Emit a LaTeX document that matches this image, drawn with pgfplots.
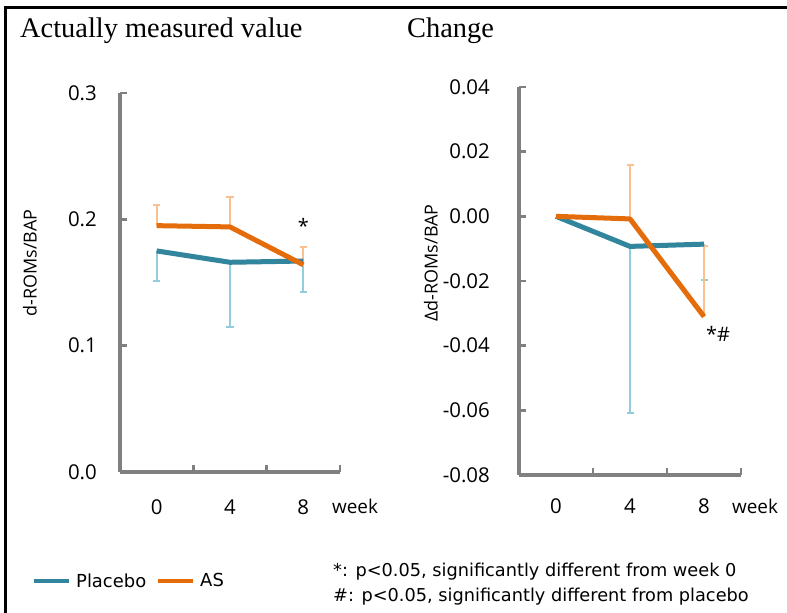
\documentclass[border=0pt]{standalone}
\usepackage{pgfplots}
\pgfplotsset{compat=1.18}
\usepackage{fontspec}
\setmainfont{Open Sans}
\newfontfamily\titlefont{Liberation Serif}
\newfontfamily\notefont{DejaVu Sans}
\definecolor{plc}{HTML}{31859C}
\definecolor{asc}{HTML}{E46C0A}
\definecolor{plcl}{HTML}{93CDDD}
\definecolor{ascl}{HTML}{FAC08F}
\definecolor{axgray}{HTML}{808080}
\pgfplotsset{
  mystyle/.style={
    scale only axis,
    axis x line=bottom, axis y line=left,
    axis line style={-, draw=axgray, line width=3.5bp},
    tick align=inside,
    major tick length=7bp,
    tick style={draw=axgray, line width=2.5bp},
    xmin=-0.5, xmax=2.5,
    scaled y ticks=false, scaled x ticks=false,
    xtick={-0.5,0.5,1.5,2.5}, xticklabels={},
    extra x ticks={0,1,2}, extra x tick labels={0,4,8},
    extra x tick style={major tick length=0pt},
    tick label style={font=\fontsize{20.5}{24}\selectfont, text=black},
    yticklabel style={anchor=east, inner sep=0pt},
    xticklabel style={anchor=base, inner sep=0pt},
    clip=false,
  },
  plerr/.style={forget plot, draw=none, mark=none, error bars/.cd, y dir=minus, y explicit,
    error bar style={draw=plcl, line width=2bp},
    error mark options={draw=plcl, line width=2bp, mark size=3.5bp, rotate=90}},
  aserr/.style={forget plot, draw=none, mark=none, error bars/.cd, y dir=plus, y explicit,
    error bar style={draw=ascl, line width=2bp},
    error mark options={draw=ascl, line width=2bp, mark size=3.5bp, rotate=90}},
}
\begin{document}
\begin{tikzpicture}
\path[use as bounding box] (0,0) rectangle (787bp,613bp);
\fill[white] (0,0) rectangle (787bp,613bp);
\draw[line width=3bp] (5bp,0) -- (5bp,605bp) -- (787bp,605bp);
% titles
\node[anchor=base west, inner sep=0pt, font=\titlefont\fontsize{28.5}{30}\selectfont] at (20bp,575bp) {Actually measured value};
\node[anchor=base west, inner sep=0pt, font=\titlefont\fontsize{28.5}{30}\selectfont] at (407bp,575bp) {Change};
% y labels
\node[rotate=90, font=\fontsize{18}{21}\selectfont] at (30bp,350bp) {d-ROMs/BAP};
\node[rotate=90, font=\fontsize{18}{21}\selectfont] at (431bp,350bp) {Δd-ROMs/BAP};
% week labels
\node[anchor=base, inner sep=0pt, font=\fontsize{19}{22}\selectfont] at (355bp,99bp) {week};
\node[anchor=base, inner sep=0pt, font=\fontsize{19}{22}\selectfont] at (755bp,99bp) {week};
% footnote
\node[anchor=base west, inner sep=0pt, font=\notefont\fontsize{17.8}{22}\selectfont] at (333bp,37bp) {*: p<0.05, significantly different from week 0};
\node[anchor=base west, inner sep=0pt, font=\notefont\fontsize{17.8}{22}\selectfont] at (333bp,12bp) {\#: p<0.05, significantly different from placebo};

\begin{axis}[mystyle, at={(120bp,141bp)}, anchor=south west,
  width=220bp, height=379bp, ymin=0, ymax=0.3,
  ytick={0,0.1,0.2,0.3}, yticklabels={0.0,0.1,0.2,0.3},
  yticklabel style={xshift=-23bp},
  xticklabel style={yshift=-42bp},
  legend columns=2,
  legend style={at={(-0.4,-0.2876)}, anchor=west, draw=none, fill=none, inner sep=0pt,
    font=\notefont\fontsize{18}{22}\selectfont,
    nodes={inner xsep=5bp, inner ysep=2bp},
    /tikz/every even column/.append style={column sep=5bp}},
  legend image code/.code={\draw[#1, line width=4bp] (0bp,0bp) -- (35bp,0bp);},
]
\addplot[plerr] coordinates {(0,0.175) +- (0,0.024) (1,0.166) +- (0,0.051) (2,0.167) +- (0,0.0245)};
\addplot[aserr] coordinates {(0,0.195) +- (0,0.0166) (1,0.194) +- (0,0.0236) (2,0.164) +- (0,0.014)};
\addplot[plc, line width=5bp, line join=round, mark=none] coordinates {(0,0.175) (1,0.166) (2,0.167)};
\addlegendentry{Placebo}
\addplot[asc, line width=5bp, line join=round, mark=none] coordinates {(0,0.195) (1,0.194) (2,0.164)};
\addlegendentry{AS}
\node[font=\fontsize{20}{24}\selectfont] at (axis cs:2,0.195) {*};
\end{axis}

\begin{axis}[mystyle, at={(519bp,138bp)}, anchor=south west,
  width=222bp, height=388bp, ymin=-0.08, ymax=0.04,
  ytick={-0.08,-0.06,-0.04,-0.02,0,0.02,0.04},
  yticklabels={-0.08,-0.06,-0.04,-0.02,0.00,0.02,0.04},
  yticklabel style={xshift=-29bp},
  xticklabel style={yshift=-39bp},
]
\addplot[plerr] coordinates {(1,-0.0093) +- (0,0.0515) (2,-0.0086) +- (0,0.0111)};
\addplot[aserr] coordinates {(1,-0.0008) +- (0,0.0168) (2,-0.031) +- (0,0.0217)};
\addplot[plc, line width=5bp, line join=round, mark=none] coordinates {(0,0) (1,-0.0093) (2,-0.0086)};
\addplot[asc, line width=5bp, line join=round, mark=none] coordinates {(0,0) (1,-0.0008) (2,-0.031)};
\node[font=\fontsize{20}{24}\selectfont] at (axis cs:2.19,-0.0365) {*\#};
\end{axis}
\end{tikzpicture}
\end{document}
